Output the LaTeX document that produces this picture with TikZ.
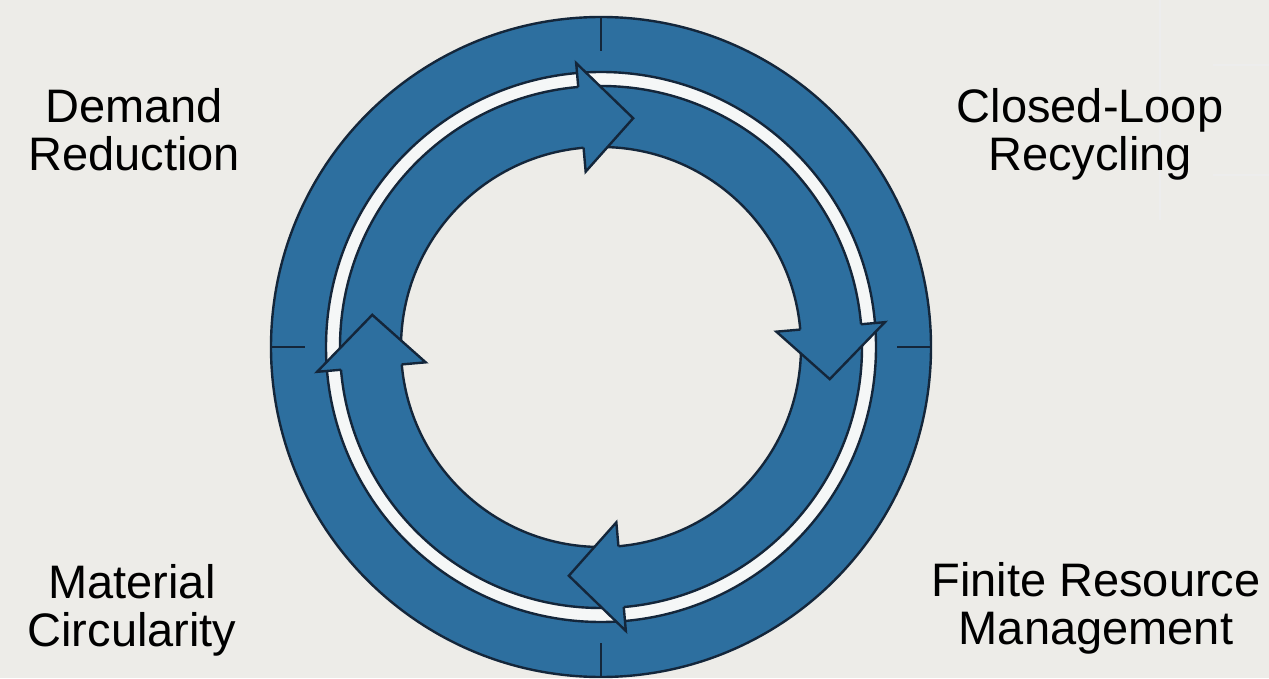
\documentclass[tikz,border=0pt]{standalone}
\usepackage{fontspec}
\setmainfont{Liberation Sans}
\usetikzlibrary{calc}

\definecolor{ringblue}{HTML}{2D6F9F}
\definecolor{inkline}{HTML}{14263A}
\definecolor{paper}{HTML}{EDECE8}
\definecolor{gapwhite}{HTML}{F5F7F7}

\begin{document}
\begin{tikzpicture}[x=1pt, y=1pt,
      band/.style={fill=ringblue, draw=inkline, line width=2.4pt, even odd rule},
      headline/.style={draw=inkline, line width=2.4pt, line join=miter},
      axistick/.style={draw=inkline, line width=2pt},
      faint/.style={draw=black!7, line width=1.2pt},
      lbl/.style={font=\fontsize{47}{48}\selectfont, align=center, anchor=base, inner sep=0pt}]
  % page
  \fill[paper] (0,0) rectangle (1269,678);
  \useasboundingbox (0,0) rectangle (1269,678);
  \draw[faint] (1160,678) -- (1160,458);
  \draw[faint] (1213,613) -- (1269,613);
  \draw[faint] (1213,503) -- (1269,503);

  \coordinate (c) at (601,331);

  % rings
  \fill[gapwhite] (c) circle[radius=276];
  \path[band] (c) circle[radius=330] (c) circle[radius=275];
  \fill[paper] (c) circle[radius=262];
  \path[band] (c) circle[radius=261] (c) circle[radius=200];

  % arrow heads, clockwise
  \begin{scope}[shift={(c)}]
    \foreach \b [evaluate=\b as \t using \b-13] in {95,5,-85,-175}{
      \fill[ringblue] (\b:261) -- (\b:285) -- (\t:231) -- (\b:176) -- (\b:200) -- cycle;
      \draw[headline] (\b:261) -- (\b:285) -- (\t:231) -- (\b:176) -- (\b:200);
    }
    % ticks on the outer ring
    \foreach \a in {0,90,180,270}
      \draw[axistick] (\a:330) -- (\a:296);
  \end{scope}

  \node[lbl] (demand)   at (134,507)  {Demand\\Reduction};
  \node[lbl] (closed)   at (1090,507) {Closed-Loop\\Recycling};
  \node[lbl] (material) at (132,32)   {Material\\Circularity};
  \node[lbl] (finite)   at (1096,34)  {Finite Resource\\Management};
\end{tikzpicture}
\end{document}
